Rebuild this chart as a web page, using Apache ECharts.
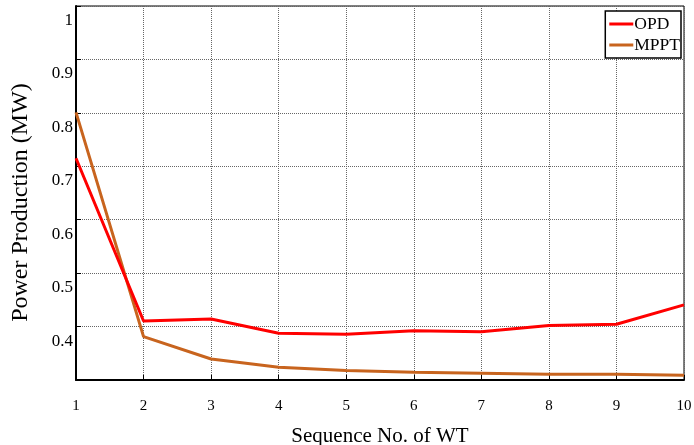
<!DOCTYPE html>
<html><head><meta charset="utf-8">
<script src="https://cdn.jsdelivr.net/npm/echarts@6/dist/echarts.min.js"></script>
<style>html,body{margin:0;padding:0;background:#fff}#c{width:694px;height:445px}</style>
</head><body><div id="c"></div>
<script>
const turbines = [1,2,3,4,5,6,7,8,9,10];
const opd  = [0.715,0.4105,0.414,0.3875,0.3856,0.392,0.3905,0.4018,0.4043,0.4405];
const mppt = [0.801,0.3811,0.3393,0.3237,0.318,0.3143,0.3125,0.3107,0.3107,0.3088];
const seriesNames = ['OPD','MPPT'];
const xTitle = 'Sequence No. of WT';
const yTitle = 'Power Production (MW)';

const font = '"Liberation Serif","Times New Roman",serif';
const chart = echarts.init(document.getElementById('c'));
chart.setOption({
  animation:false,
  backgroundColor:'#fff',
  grid:{left:76,right:10,top:6,bottom:65,outerBoundsMode:'none',containLabel:false,
        show:true,borderColor:'#000',borderWidth:1},
  legend:{
    right:13,top:11,orient:'vertical',
    data:seriesNames,
    icon:'rect',
    itemWidth:24,itemHeight:3,itemGap:3,
    padding:[4,1,4,4],
    borderColor:'#000',borderWidth:1.5,backgroundColor:'#fff',
    textStyle:{fontFamily:font,fontSize:17.5,color:'#000',padding:[0,0,0,-4]}
  },
  xAxis:{
    type:'value',min:1,max:10,interval:1,
    name:xTitle,nameLocation:'middle',nameGap:46,
    nameTextStyle:{fontFamily:font,fontSize:21,color:'#000'},
    axisLine:{lineStyle:{color:'#000',width:2}},
    axisTick:{inside:true,length:5,lineStyle:{color:'#000'}},
    axisLabel:{fontFamily:font,fontSize:15,color:'#000',margin:19},
    splitLine:{show:true,lineStyle:{color:'#666',type:[1,1],width:1}}
  },
  yAxis:{
    type:'value',min:0.3,max:1.0,interval:0.1,
    name:yTitle,nameLocation:'middle',nameGap:43,
    nameTextStyle:{fontFamily:font,fontSize:24,color:'#000',padding:[0,0,0,-19]},
    axisLine:{lineStyle:{color:'#000',width:2}},
    axisTick:{inside:true,length:5,lineStyle:{color:'#000'}},
    axisLabel:{fontFamily:font,fontSize:17,color:'#000',margin:3,verticalAlign:'top',padding:[6,0,0,0],
      formatter:function(v){ if(Math.abs(v-0.3)<1e-6) return ''; if(Math.abs(v-1)<1e-6) return '1'; return v.toFixed(1);} },
    splitLine:{show:true,lineStyle:{color:'#666',type:[1,1],width:1}}
  },
  series:[
    {name:seriesNames[0],type:'line',symbol:'none',data:turbines.map((t,i)=>[t,opd[i]]),
      lineStyle:{color:'#ff0000',width:3},itemStyle:{color:'#ff0000'},z:3},
    {name:seriesNames[1],type:'line',symbol:'none',data:turbines.map((t,i)=>[t,mppt[i]]),
      lineStyle:{color:'#c8641e',width:3},itemStyle:{color:'#c8641e'},z:2}
  ]
});
</script></body></html>
